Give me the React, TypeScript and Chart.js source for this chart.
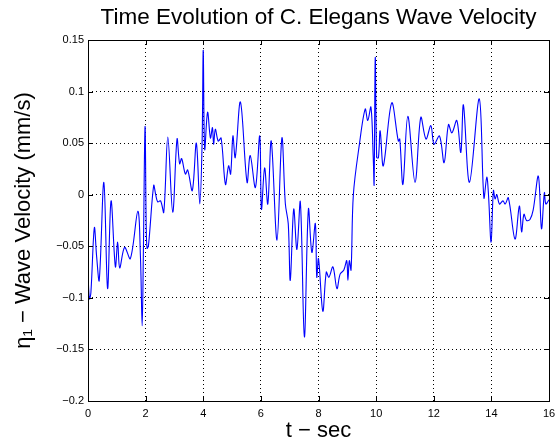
import { useEffect, useRef } from "react";
import { Chart, registerables } from "chart.js";

Chart.register(...registerables);

const TITLE = "Time Evolution of C. Elegans Wave Velocity";
const X_TITLE = "t \u2212 sec";
const Y_TITLE = "\u03b7\u2081 \u2212 Wave Velocity (mm/s)";

const X_TICKS = [0, 2, 4, 6, 8, 10, 12, 14, 16];
const X_TICK_LABELS = ["0", "2", "4", "6", "8", "10", "12", "14", "16"];
const Y_TICKS = [-0.2, -0.15, -0.1, -0.05, 0, 0.05, 0.1, 0.15];
const Y_TICK_LABELS = ["\u22120.2", "\u22120.15", "\u22120.1", "\u22120.05", "0", "0.05", "0.1", "0.15"];

const TIME = [
  0.0, 0.05, 0.1, 0.22, 0.3, 0.39, 0.55, 0.68, 0.8, 0.95,
  1.03, 1.1, 1.27, 1.47, 1.73, 1.82, 1.88, 1.92, 1.98, 2.02,
  2.05, 2.1, 2.28, 2.35, 2.42, 2.52, 2.63, 2.77, 2.94, 3.09,
  3.18, 3.25, 3.38, 3.46, 3.62, 3.76, 3.88, 3.96, 4.0, 4.05,
  4.15, 4.25, 4.32, 4.36, 4.42, 4.52, 4.62, 4.77, 4.88, 4.95,
  5.03, 5.11, 5.29, 5.52, 5.63, 5.81, 5.96, 6.02, 6.13, 6.24,
  6.36, 6.56, 6.73, 6.85, 6.95, 7.02, 7.14, 7.25, 7.37, 7.51,
  7.65, 7.77, 7.89, 7.94, 8.0, 8.15, 8.27, 8.36, 8.5, 8.64,
  8.75, 8.88, 8.98, 9.02, 9.07, 9.13, 9.21, 9.42, 9.62, 9.71,
  9.82, 9.9, 9.93, 9.97, 10.02, 10.08, 10.14, 10.25, 10.54, 10.77,
  10.82, 10.93, 11.1, 11.35, 11.55, 11.73, 11.9, 12.01, 12.2, 12.36,
  12.51, 12.63, 12.8, 12.94, 13.03, 13.24, 13.58, 13.74, 13.84, 13.9,
  13.99, 14.07, 14.13, 14.19, 14.28, 14.4, 14.48, 14.59, 14.82, 14.97,
  15.05, 15.13, 15.22, 15.34, 15.45, 15.63, 15.74, 15.84, 15.89, 16.0,
];

const VELOCITY = [
  -0.078, -0.101, -0.095, -0.032, -0.06, -0.083, 0.012, -0.091, -0.006, -0.07,
  -0.046, -0.071, -0.051, -0.062, -0.016, -0.06, -0.127, -0.06, 0.066, -0.03,
  -0.052, -0.049, 0.009, 0.0, -0.007, -0.006, -0.017, 0.056, -0.017, 0.054,
  0.03, 0.035, 0.02, 0.024, 0.004, 0.05, -0.009, 0.05, 0.14, 0.044,
  0.08, 0.055, 0.065, 0.049, 0.0635, 0.052, 0.055, 0.01, 0.028, 0.02,
  0.057, 0.036, 0.09, 0.012, 0.038, 0.007, 0.057, -0.014, 0.026, -0.009,
  0.052, -0.044, 0.055, -0.009, -0.028, -0.083, -0.014, -0.053, -0.007, -0.138,
  -0.014, -0.056, -0.028, -0.08, -0.062, -0.113, -0.075, -0.08, -0.07, -0.091,
  -0.077, -0.073, -0.064, -0.083, -0.064, -0.073, 0.0, 0.049, 0.083, 0.072,
  0.085, 0.036, 0.01, 0.133, 0.036, 0.036, 0.062, 0.028, 0.089, 0.052,
  0.054, 0.01, 0.076, 0.012, 0.075, 0.054, 0.067, 0.049, 0.057, 0.031,
  0.068, 0.06, 0.072, 0.041, 0.087, 0.012, 0.093, -0.003, 0.017, 0.0,
  -0.046, 0.004, -0.004, 0.0, -0.009, -0.006, -0.009, -0.003, -0.043, -0.011,
  -0.036, -0.019, -0.025, -0.024, -0.015, 0.018, -0.033, 0.002, -0.009, -0.005,
];

const FONT = 'Arial, "Liberation Sans", Helvetica, sans-serif';

const boxAndTicks = {
  id: "boxAndTicks",
  afterDraw(chart: any) {
    const { ctx, chartArea, scales } = chart;
    const { left, right, top, bottom } = chartArea;
    const len = 5;
    ctx.save();
    ctx.strokeStyle = "#000";
    ctx.lineWidth = 1;
    ctx.beginPath();
    for (const v of X_TICKS) {
      const px = Math.round(scales.x.getPixelForValue(v)) + 0.5;
      ctx.moveTo(px, bottom);
      ctx.lineTo(px, bottom - len);
      ctx.moveTo(px, top);
      ctx.lineTo(px, top + len);
    }
    for (const v of Y_TICKS) {
      const py = Math.round(scales.y.getPixelForValue(v)) + 0.5;
      ctx.moveTo(left, py);
      ctx.lineTo(left + len, py);
      ctx.moveTo(right, py);
      ctx.lineTo(right - len, py);
    }
    ctx.stroke();
    ctx.strokeRect(
      Math.round(left) + 0.5,
      Math.round(top) + 0.5,
      Math.round(right) - Math.round(left),
      Math.round(bottom) - Math.round(top)
    );
    ctx.restore();
  },
};

export default function App() {
  const ref = useRef<HTMLCanvasElement | null>(null);

  useEffect(() => {
    document.body.style.margin = "0";
    const canvas = ref.current;
    if (!canvas) return;
    const points = TIME.map((t, i) => ({ x: t, y: VELOCITY[i] }));
    const chart = new Chart(canvas, {
      type: "line",
      data: {
        datasets: [
          {
            data: points,
            borderColor: "#0000ff",
            borderWidth: 1.1,
            pointRadius: 0,
            fill: false,
            tension: 0.35,
          },
        ],
      },
      options: {
        animation: false,
        responsive: false,
        maintainAspectRatio: false,
        layout: { padding: { left: 0, right: 8, top: 0, bottom: 0 } },
        plugins: {
          legend: { display: false },
          tooltip: { enabled: false },
          title: {
            display: true,
            text: TITLE,
            fullSize: false,
            color: "#000",
            font: { family: FONT, size: 22.5, weight: "normal" },
            padding: { top: 4, bottom: 9 },
          },
        },
        scales: {
          x: {
            type: "linear",
            min: 0,
            max: 16,
            afterBuildTicks: (scale: any) => {
              scale.ticks = X_TICKS.map((v) => ({ value: v }));
            },
            afterFit: (scale: any) => {
              scale.height = 44;
              scale.paddingLeft = 0;
              scale.paddingRight = 0;
            },
            ticks: {
              autoSkip: false,
              maxRotation: 0,
              padding: 6,
              color: "#000",
              font: { family: FONT, size: 11 },
              callback: (_v: any, i: number) => X_TICK_LABELS[i],
            },
            grid: {
              color: "#000",
              lineWidth: 1,
              drawTicks: false,
            },
            border: { display: false, dash: [1, 3] },
            title: {
              display: true,
              text: X_TITLE,
              color: "#000",
              font: { family: FONT, size: 22 },
              padding: { top: 0, bottom: 1 },
            },
          },
          y: {
            type: "linear",
            min: -0.2,
            max: 0.15,
            afterBuildTicks: (scale: any) => {
              scale.ticks = Y_TICKS.map((v) => ({ value: v }));
            },
            afterFit: (scale: any) => {
              scale.width = 88;
              scale.paddingTop = 0;
              scale.paddingBottom = 0;
            },
            ticks: {
              autoSkip: false,
              padding: 4,
              color: "#000",
              font: { family: FONT, size: 11 },
              callback: (_v: any, i: number) => Y_TICK_LABELS[i],
            },
            grid: {
              color: "#000",
              lineWidth: 1,
              drawTicks: false,
            },
            border: { display: false, dash: [1, 3] },
            title: {
              display: true,
              text: Y_TITLE,
              color: "#000",
              font: { family: FONT, size: 22 },
              padding: { top: 11, bottom: 0 },
            },
          },
        },
      },
      plugins: [boxAndTicks],
    } as any);
    return () => chart.destroy();
  }, []);

  return (
    <div style={{ width: 557, height: 445, background: "#fff" }}>
      <canvas ref={ref} width={557} height={445} style={{ display: "block" }} />
    </div>
  );
}
